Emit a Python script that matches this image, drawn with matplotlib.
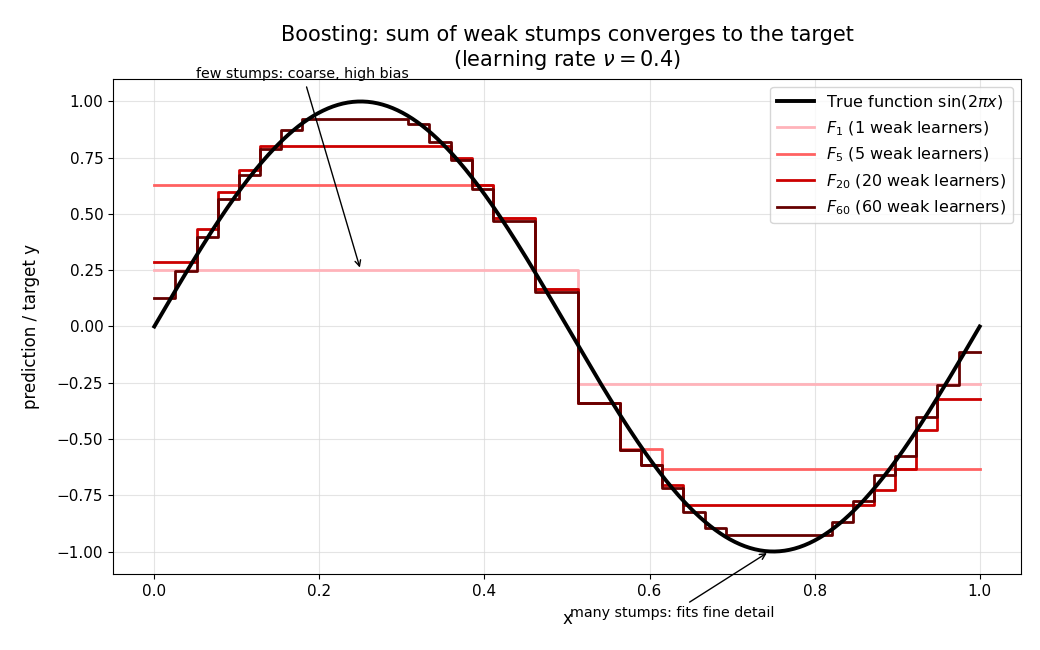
import numpy as np
import matplotlib
matplotlib.use("Agg")
import matplotlib.pyplot as plt

# ---- data ----
# step edges (stump thresholds lie on a grid of 39 equal intervals on [0, 1])
n_intervals = 39

F1_levels = [0.250] * 20 + [-0.257] * 19

F5_levels = ([0.627] * 16 + [0.480] * 2 + [0.168] * 2 + [-0.341] * 2
             + [-0.545] * 2 + [-0.633] * 15)

F20_levels = ([0.285, 0.285, 0.435, 0.598, 0.694] + [0.802] * 9
              + [0.748, 0.627, 0.482, 0.482, 0.168, 0.168,
                 -0.341, -0.341, -0.548, -0.614, -0.703]
              + [-0.792] * 9
              + [-0.725, -0.635, -0.459, -0.322, -0.322])

F60_levels = ([0.125, 0.247, 0.398, 0.565, 0.672, 0.790, 0.874] + [0.923] * 5
              + [0.901, 0.820, 0.740, 0.610, 0.468, 0.468, 0.152, 0.152,
                 -0.341, -0.341, -0.548, -0.614, -0.717, -0.826, -0.895]
              + [-0.925] * 5
              + [-0.870, -0.777, -0.660, -0.574, -0.400, -0.259, -0.112])

models = [
    ("$F_{1}$ (1 weak learners)", F1_levels, "#ffb3ba"),
    ("$F_{5}$ (5 weak learners)", F5_levels, "#ff6161"),
    ("$F_{20}$ (20 weak learners)", F20_levels, "#cc0000"),
    ("$F_{60}$ (60 weak learners)", F60_levels, "#660000"),
]

title = "Boosting: sum of weak stumps converges to the target\n(learning rate $\\nu = 0.4$)"

# ---- figure ----
fig = plt.figure(figsize=(10.4, 6.5), dpi=100)
ax = fig.add_axes([0.1087, 0.1169, 0.9817 - 0.1087, 0.8785 - 0.1169])

x_fine = np.linspace(0, 1, 500)
ax.plot(x_fine, np.sin(2 * np.pi * x_fine), color="black", lw=2.8,
        label="True function $\\sin(2\\pi x)$", zorder=4)

edges = np.linspace(0, 1, n_intervals + 1)
for label, levels, color in models:
    vals = np.append(levels, levels[-1])
    ax.step(edges, vals, where="post", color=color, lw=2.0, label=label, zorder=3)

ax.set_xlim(-0.05, 1.05)
ax.set_ylim(-1.1, 1.1)
ax.grid(True, color="#d9d9d9", lw=0.8, alpha=0.7)
ax.tick_params(labelsize=11)
ax.set_xlabel("x", fontsize=12, labelpad=8)
ax.set_ylabel("prediction / target y", fontsize=12, labelpad=12)
ax.set_title(title, fontsize=15, pad=9)

ax.annotate("few stumps: coarse, high bias", xy=(0.25, 0.25), xytext=(0.18, 1.12),
            ha="center", va="center", fontsize=10.3,
            arrowprops=dict(arrowstyle="->", color="black", lw=1.0),
            annotation_clip=False)
ax.annotate("many stumps: fits fine detail", xy=(0.745, -1.0), xytext=(0.627, -1.275),
            ha="center", va="center", fontsize=10.3,
            arrowprops=dict(arrowstyle="->", color="black", lw=1.0),
            annotation_clip=False)

ax.legend(loc="upper right", fontsize=11.5, handlelength=2.3)

fig.savefig("out.png", dpi=100)
